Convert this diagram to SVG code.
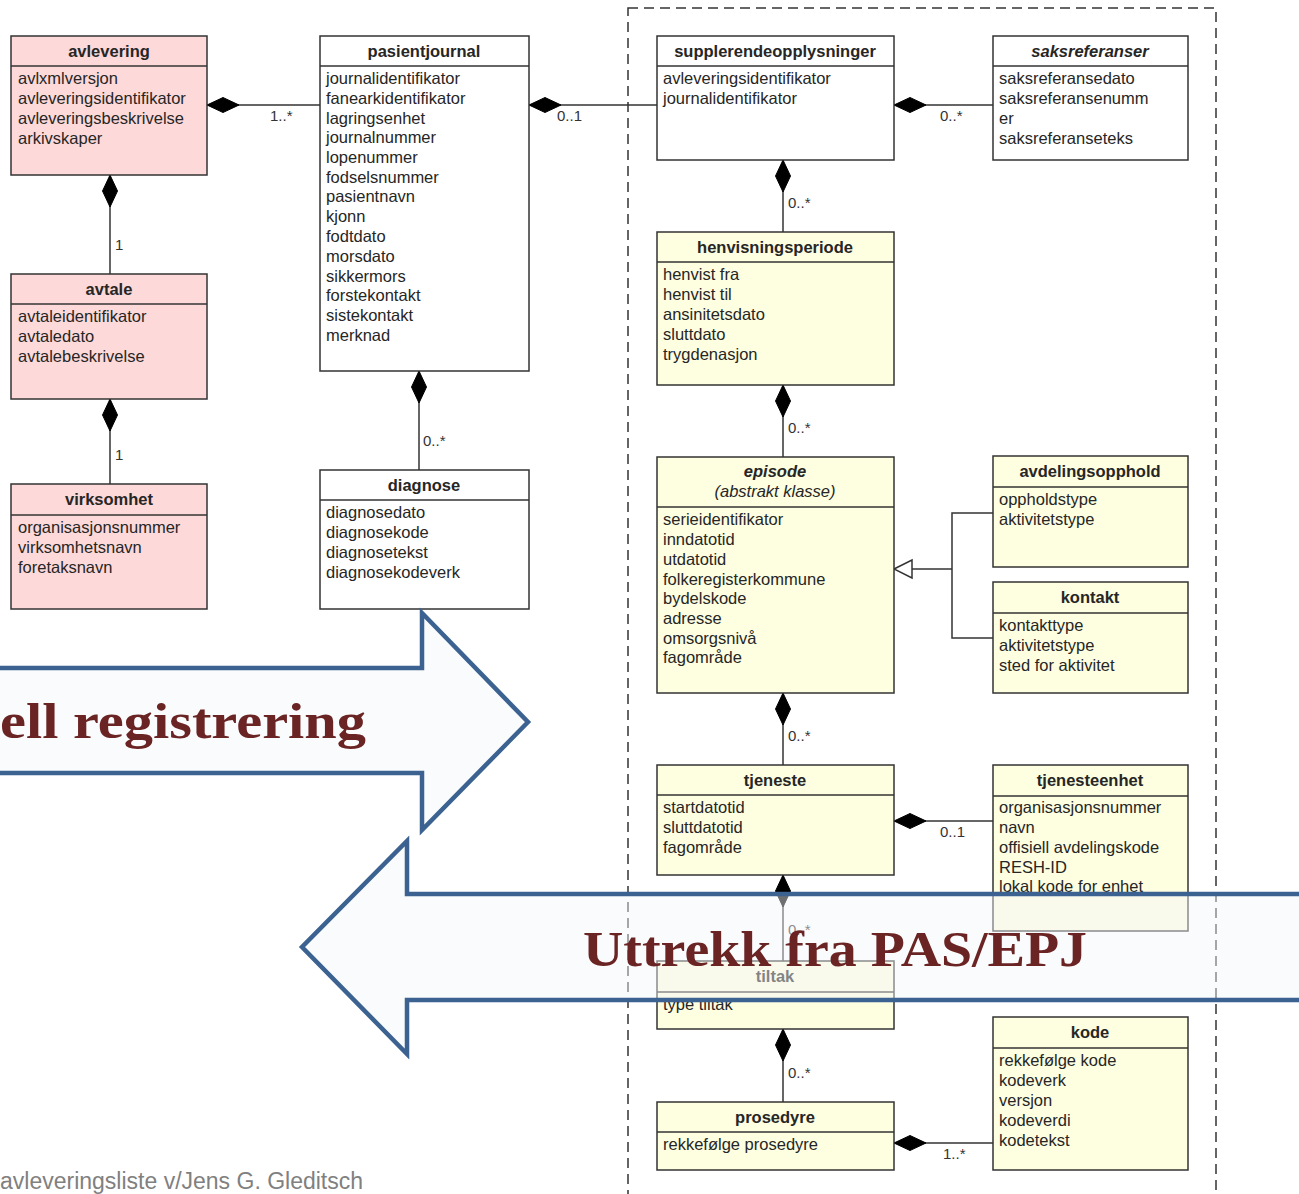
<svg xmlns="http://www.w3.org/2000/svg" width="1299" height="1194" viewBox="0 0 1299 1194">
<style>
.bx{stroke:#333;stroke-width:1.5}
.pk{fill:#fdd9d9}.yl{fill:#fefee1}.wh{fill:#fff}
.dv{stroke:#333;stroke-width:1.5}
text{font-family:"Liberation Sans",Arial,sans-serif;fill:#262626}
.h{font-size:16.5px;font-weight:bold;text-anchor:middle}
.a{font-size:16.5px}
.i{font-style:italic}
.m{font-size:15px;fill:#333}
.cn{stroke:#333;stroke-width:1.5;fill:none}
.arw{fill:#f4f6fb;fill-opacity:0.45;stroke:#3b6290;stroke-width:4.5;stroke-linejoin:miter}
.big{font-family:"Liberation Serif","Times New Roman",serif;font-weight:bold;font-size:50px;fill:#6b2424}
.ft{font-size:23px;fill:#808080}
</style>
<defs>
<marker id="dia" markerUnits="userSpaceOnUse" viewBox="-1 -9 34 18" markerWidth="34" markerHeight="18" refX="0" refY="0" orient="auto">
<path d="M0,0 L16,-7.5 L32,0 L16,7.5 Z" fill="#000" stroke="#000" stroke-width="1"/>
</marker>
<marker id="gen" markerUnits="userSpaceOnUse" viewBox="-1 -11 22 22" markerWidth="22" markerHeight="22" refX="0" refY="0" orient="auto">
<path d="M0,0 L18,-9 L18,9 Z" fill="#fff" stroke="#333" stroke-width="1.5"/>
</marker>
</defs>

<rect x="628" y="8" width="588" height="1200" fill="none" stroke="#333" stroke-width="1.5" stroke-dasharray="10,6"/>

<g id="connectors">
<path class="cn" d="M207,105 H320" marker-start="url(#dia)"/>
<path class="cn" d="M529,105 H657" marker-start="url(#dia)"/>
<path class="cn" d="M894,105 H993" marker-start="url(#dia)"/>
<path class="cn" d="M110,175 V274" marker-start="url(#dia)"/>
<path class="cn" d="M110,399 V484" marker-start="url(#dia)"/>
<path class="cn" d="M419,371 V470" marker-start="url(#dia)"/>
<path class="cn" d="M783,160 V232" marker-start="url(#dia)"/>
<path class="cn" d="M783,385 V457" marker-start="url(#dia)"/>
<path class="cn" d="M783,693 V765" marker-start="url(#dia)"/>
<path class="cn" d="M894,821 H993" marker-start="url(#dia)"/>
<path class="cn" d="M783,875 V961" marker-start="url(#dia)"/>
<path class="cn" d="M783,1029 V1102" marker-start="url(#dia)"/>
<path class="cn" d="M894,1143 H993" marker-start="url(#dia)"/>
<path class="cn" d="M894,569 H952" marker-start="url(#gen)"/>
<path class="cn" d="M993,513 H952 V638 H993"/>
<text class="m" x="270" y="121">1..*</text>
<text class="m" x="557" y="121">0..1</text>
<text class="m" x="940" y="121">0..*</text>
<text class="m" x="115" y="250">1</text>
<text class="m" x="115" y="460">1</text>
<text class="m" x="423" y="446">0..*</text>
<text class="m" x="788" y="208">0..*</text>
<text class="m" x="788" y="433">0..*</text>
<text class="m" x="788" y="741">0..*</text>
<text class="m" x="940" y="837">0..1</text>
<text class="m" x="788" y="935">0..*</text>
<text class="m" x="788" y="1078">0..*</text>
<text class="m" x="943" y="1159">1..*</text>
</g>

<g id="avlevering">
<rect class="bx pk" x="11" y="36" width="196" height="139"/>
<line class="dv" x1="11" y1="66" x2="207" y2="66"/>
<text class="h" x="109" y="57">avlevering</text>
<text class="a" x="18" y="84">avlxmlversjon</text>
<text class="a" x="18" y="104">avleveringsidentifikator</text>
<text class="a" x="18" y="124">avleveringsbeskrivelse</text>
<text class="a" x="18" y="144">arkivskaper</text>
</g>

<g id="avtale">
<rect class="bx pk" x="11" y="274" width="196" height="125"/>
<line class="dv" x1="11" y1="304" x2="207" y2="304"/>
<text class="h" x="109" y="295">avtale</text>
<text class="a" x="18" y="322">avtaleidentifikator</text>
<text class="a" x="18" y="342">avtaledato</text>
<text class="a" x="18" y="362">avtalebeskrivelse</text>
</g>

<g id="virksomhet">
<rect class="bx pk" x="11" y="484" width="196" height="125"/>
<line class="dv" x1="11" y1="515" x2="207" y2="515"/>
<text class="h" x="109" y="505">virksomhet</text>
<text class="a" x="18" y="533">organisasjonsnummer</text>
<text class="a" x="18" y="553">virksomhetsnavn</text>
<text class="a" x="18" y="573">foretaksnavn</text>
</g>

<g id="pasientjournal">
<rect class="bx wh" x="320" y="36" width="209" height="335"/>
<line class="dv" x1="320" y1="66" x2="529" y2="66"/>
<text class="h" x="424" y="57">pasientjournal</text>
<text class="a" x="326" y="84">journalidentifikator</text>
<text class="a" x="326" y="104">fanearkidentifikator</text>
<text class="a" x="326" y="124">lagringsenhet</text>
<text class="a" x="326" y="143">journalnummer</text>
<text class="a" x="326" y="163">lopenummer</text>
<text class="a" x="326" y="183">fodselsnummer</text>
<text class="a" x="326" y="202">pasientnavn</text>
<text class="a" x="326" y="222">kjonn</text>
<text class="a" x="326" y="242">fodtdato</text>
<text class="a" x="326" y="262">morsdato</text>
<text class="a" x="326" y="282">sikkermors</text>
<text class="a" x="326" y="301">forstekontakt</text>
<text class="a" x="326" y="321">sistekontakt</text>
<text class="a" x="326" y="341">merknad</text>
</g>

<g id="diagnose">
<rect class="bx wh" x="320" y="470" width="209" height="139"/>
<line class="dv" x1="320" y1="500" x2="529" y2="500"/>
<text class="h" x="424" y="491">diagnose</text>
<text class="a" x="326" y="518">diagnosedato</text>
<text class="a" x="326" y="538">diagnosekode</text>
<text class="a" x="326" y="558">diagnosetekst</text>
<text class="a" x="326" y="578">diagnosekodeverk</text>
</g>

<g id="supplerendeopplysninger">
<rect class="bx wh" x="657" y="36" width="237" height="124"/>
<line class="dv" x1="657" y1="66" x2="894" y2="66"/>
<text class="h" x="775" y="57">supplerendeopplysninger</text>
<text class="a" x="663" y="84">avleveringsidentifikator</text>
<text class="a" x="663" y="104">journalidentifikator</text>
</g>

<g id="saksreferanser">
<rect class="bx wh" x="993" y="36" width="195" height="124"/>
<line class="dv" x1="993" y1="66" x2="1188" y2="66"/>
<text class="h i" x="1090" y="57">saksreferanser</text>
<text class="a" x="999" y="84">saksreferansedato</text>
<text class="a" x="999" y="104">saksreferansenumm</text>
<text class="a" x="999" y="124">er</text>
<text class="a" x="999" y="144">saksreferanseteks</text>
</g>

<g id="henvisningsperiode">
<rect class="bx yl" x="657" y="232" width="237" height="153"/>
<line class="dv" x1="657" y1="262" x2="894" y2="262"/>
<text class="h" x="775" y="253">henvisningsperiode</text>
<text class="a" x="663" y="280">henvist fra</text>
<text class="a" x="663" y="300">henvist til</text>
<text class="a" x="663" y="320">ansinitetsdato</text>
<text class="a" x="663" y="340">sluttdato</text>
<text class="a" x="663" y="360">trygdenasjon</text>
</g>

<g id="episode">
<rect class="bx yl" x="657" y="457" width="237" height="236"/>
<line class="dv" x1="657" y1="507" x2="894" y2="507"/>
<text class="h i" x="775" y="477">episode</text>
<text class="a i" x="775" y="497" text-anchor="middle">(abstrakt klasse)</text>
<text class="a" x="663" y="525">serieidentifikator</text>
<text class="a" x="663" y="545">inndatotid</text>
<text class="a" x="663" y="565">utdatotid</text>
<text class="a" x="663" y="585">folkeregisterkommune</text>
<text class="a" x="663" y="604">bydelskode</text>
<text class="a" x="663" y="624">adresse</text>
<text class="a" x="663" y="644">omsorgsnivå</text>
<text class="a" x="663" y="663">fagområde</text>
</g>

<g id="avdelingsopphold">
<rect class="bx yl" x="993" y="456" width="195" height="111"/>
<line class="dv" x1="993" y1="487" x2="1188" y2="487"/>
<text class="h" x="1090" y="477">avdelingsopphold</text>
<text class="a" x="999" y="505">oppholdstype</text>
<text class="a" x="999" y="525">aktivitetstype</text>
</g>

<g id="kontakt">
<rect class="bx yl" x="993" y="582" width="195" height="111"/>
<line class="dv" x1="993" y1="613" x2="1188" y2="613"/>
<text class="h" x="1090" y="603">kontakt</text>
<text class="a" x="999" y="631">kontakttype</text>
<text class="a" x="999" y="651">aktivitetstype</text>
<text class="a" x="999" y="671">sted for aktivitet</text>
</g>

<g id="tjeneste">
<rect class="bx yl" x="657" y="765" width="237" height="110"/>
<line class="dv" x1="657" y1="795" x2="894" y2="795"/>
<text class="h" x="775" y="786">tjeneste</text>
<text class="a" x="663" y="813">startdatotid</text>
<text class="a" x="663" y="833">sluttdatotid</text>
<text class="a" x="663" y="853">fagområde</text>
</g>

<g id="tjenesteenhet">
<rect class="bx yl" x="993" y="765" width="195" height="166"/>
<line class="dv" x1="993" y1="796" x2="1188" y2="796"/>
<text class="h" x="1090" y="786">tjenesteenhet</text>
<text class="a" x="999" y="813">organisasjonsnummer</text>
<text class="a" x="999" y="833">navn</text>
<text class="a" x="999" y="853">offisiell avdelingskode</text>
<text class="a" x="999" y="873">RESH-ID</text>
<text class="a" x="999" y="892">lokal kode for enhet</text>
</g>

<g id="tiltak">
<rect class="bx yl" x="657" y="961" width="237" height="68"/>
<line class="dv" x1="657" y1="992" x2="894" y2="992"/>
<text class="h" x="775" y="982">tiltak</text>
<text class="a" x="663" y="1010">type tiltak</text>
</g>

<g id="prosedyre">
<rect class="bx yl" x="657" y="1102" width="237" height="68"/>
<line class="dv" x1="657" y1="1132" x2="894" y2="1132"/>
<text class="h" x="775" y="1123">prosedyre</text>
<text class="a" x="663" y="1150">rekkefølge prosedyre</text>
</g>

<g id="kode">
<rect class="bx yl" x="993" y="1017" width="195" height="153"/>
<line class="dv" x1="993" y1="1048" x2="1188" y2="1048"/>
<text class="h" x="1090" y="1038">kode</text>
<text class="a" x="999" y="1066">rekkefølge kode</text>
<text class="a" x="999" y="1086">kodeverk</text>
<text class="a" x="999" y="1106">versjon</text>
<text class="a" x="999" y="1126">kodeverdi</text>
<text class="a" x="999" y="1146">kodetekst</text>
</g>

<g id="arrow-manuell">
<polygon class="arw" points="-10,668 422,668 422,613 528,722 422,830 422,773 -10,773"/>
<text class="big" x="0" y="738" textLength="366" lengthAdjust="spacingAndGlyphs">ell registrering</text>
</g>

<g id="arrow-uttrekk">
<polygon class="arw" points="1310,894 407,894 407,841 302,947 407,1054 407,1000 1310,1000"/>
<text class="big" x="583" y="966" textLength="504" lengthAdjust="spacingAndGlyphs">Uttrekk fra PAS/EPJ</text>
</g>

<text class="ft" x="0" y="1189">avleveringsliste v/Jens G. Gleditsch</text>
</svg>
